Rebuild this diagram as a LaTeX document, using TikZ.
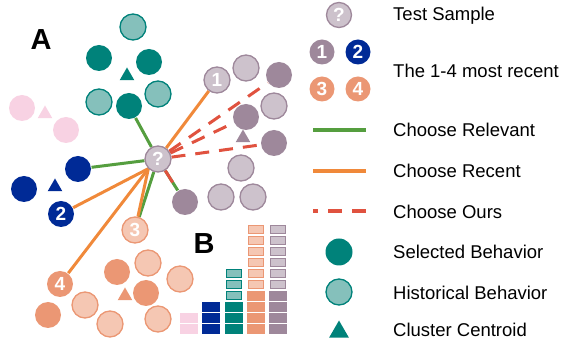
\documentclass[tikz,border=0pt]{standalone}
\usepackage{fontspec}
\setmainfont{Liberation Sans}
\usetikzlibrary{shapes.geometric}
\pgfdeclarelayer{bg}
\pgfsetlayers{bg,main}
\definecolor{tealD}{HTML}{00827A}
\definecolor{tealL}{HTML}{85C0BB}
\definecolor{pinkC}{HTML}{F8D2E3}
\definecolor{blueD}{HTML}{002A96}
\definecolor{orD}{HTML}{EB9774}
\definecolor{orL}{HTML}{F5C7B3}
\definecolor{puD}{HTML}{9E889B}
\definecolor{puL}{HTML}{CDC2CC}
\definecolor{lnG}{HTML}{559E3F}
\definecolor{lnO}{HTML}{F0893A}
\definecolor{lnR}{HTML}{E0523F}
\newcommand\mybar[5]{%
  \fill[#4] (#1,334) rectangle ({#1+18},{334-11*#2});%
  \foreach \i in {1,...,#2}{\draw[white,line width=0.6pt] (#1,{334-11*\i}) -- ({#1+18},{334-11*\i});}%
  \ifnum#3>0
    \foreach \j in {1,...,#3}{\filldraw[fill=#5,draw=#4,line width=1.2pt] ({#1+1.4},{334-11*#2-11*(\j-1)-1.3}) rectangle ({#1+16.6},{334-11*#2-11*\j+1.3});}%
  \fi}
\begin{document}
\begin{tikzpicture}[x=1pt,y=-1pt,
  dot/.style={circle,minimum size=26pt,inner sep=0pt,line width=1.3pt},
  tS/.style={dot,fill=tealD},
  tH/.style={dot,fill=tealL,draw=tealD},
  pk/.style={dot,fill=pinkC},
  bS/.style={dot,fill=blueD},
  oS/.style={dot,fill=orD},
  oH/.style={dot,fill=orL,draw=orD},
  pS/.style={dot,fill=puD},
  pH/.style={dot,fill=puL,draw=puD},
  tri/.style={regular polygon,regular polygon sides=3,minimum size=17pt,inner sep=0pt},
  num/.style={text=white,font=\bfseries\fontsize{19}{19}\selectfont},
  lab/.style={anchor=base west,font=\fontsize{18.5}{18.5}\selectfont,inner sep=0pt},
  big/.style={font=\bfseries\fontsize{29}{29}\selectfont,inner sep=0pt},
  relev/.style={lnG,line width=3pt},
  recent/.style={lnO,line width=3pt},
  ours/.style={lnR,line width=3pt,dash pattern=on 14pt off 10pt}]
\useasboundingbox (0,0) rectangle (582,347);
% labels
\node[big] (A) at (41,40) {A};
\node[big] (B) at (204,244) {B};
% teal cluster
\node[tH] (t1) at (133,27) {};
\node[tS] (t2) at (99,58) {};
\node[tS] (t3) at (149,62) {};
\node[tri,fill=tealD] (tT) at (127,76) {};
\node[tH] (t4) at (99,102) {};
\node[tS] (t5) at (129,106) {};
\node[tH] (t6) at (158,94) {};
% pink cluster
\node[pk] (k1) at (22,108) {};
\node[tri,fill=pinkC] (kT) at (45,114) {};
\node[pk] (k2) at (66,130) {};
% blue cluster
\node[bS] (b1) at (78,169) {};
\node[bS] (b3) at (24,189) {};
\node[tri,fill=blueD] (bT) at (55,187) {};
\node[bS,num] (b2) at (61,214) {2};
% test sample
\node[pH,num] (q) at (158,159) {?};
% purple cluster
\node[pH,num] (p1) at (217,80) {1};
\node[pH] (pl1) at (246,68) {};
\node[pS] (pd1) at (279,75) {};
\node[pH] (pl2) at (274,106) {};
\node[pS] (pd2) at (246,117) {};
\node[tri,fill=puD] (pT) at (243,138) {};
\node[pS] (pd3) at (274,143) {};
\node[pH] (pl3) at (241,168) {};
\node[pS] (pd4) at (185,202) {};
\node[pH] (pl4) at (221,197) {};
\node[pH] (pl5) at (253,197) {};
% orange cluster
\node[oH,num] (o3) at (135,230) {3};
\node[oS,num] (o4) at (60,284) {4};
\node[oS] (od1) at (117,272) {};
\node[oH] (ol1) at (148,263) {};
\node[oH] (ol2) at (180,279) {};
\node[oS] (od2) at (146,293) {};
\node[tri,fill=orD] (oT) at (125,296) {};
\node[oS] (od3) at (48,315) {};
\node[oH] (ol3) at (85,305) {};
\node[oH] (ol4) at (110,324) {};
\node[oH] (ol5) at (158,319) {};
% connectors
\begin{pgfonlayer}{bg}
\draw[relev] (q) -- (t5);
\draw[relev] (q) -- (b1);
\draw[relev] (q) -- (o3);
\draw[relev] (q) -- (pd4);
\draw[recent] (q) -- (p1);
\draw[recent] (q.225) -- (b2);
\draw[recent] (q.225) -- (o3);
\draw[recent] (q.225) -- (o4);
\draw[ours] (q) -- (pd1);
\draw[ours] (q) -- (pd2);
\draw[ours] (q) -- (pd3);
\draw[ours] (q) -- (pd4);
\end{pgfonlayer}
% bars
\mybar{180}{2}{0}{pinkC}{pinkC}
\mybar{202}{3}{0}{blueD}{blueD}
\mybar{225}{3}{3}{tealD}{tealL}
\mybar{247}{4}{6}{orD}{orL}
\mybar{269}{4}{6}{puD}{puL}
% legend
\node[pH,num,minimum size=25pt] (lq) at (339,15) {?};
\node[pS,num,minimum size=25pt] (l1) at (322,52) {1};
\node[bS,num,minimum size=25pt] (l2) at (358,52) {2};
\node[oS,num,minimum size=25pt] (l3) at (322,89) {3};
\node[oS,num,minimum size=25pt] (l4) at (358,89) {4};
\coordinate (gA) at (313,130); \coordinate (gB) at (366,130);
\coordinate (rA) at (313,171); \coordinate (rB) at (366,171);
\coordinate (dA) at (313,211); \coordinate (dB) at (366,211);
\draw[relev,line width=3.6pt] (gA) -- (gB);
\draw[recent,line width=3.6pt] (rA) -- (rB);
\draw[ours,line width=3.4pt,dash phase=9pt] (dA) -- (dB);
\node[tS,minimum size=27pt] (ls) at (339,252) {};
\node[tH,minimum size=26pt] (lh) at (339,292) {};
\node[tri,fill=tealD,minimum size=23pt] (lt) at (339,332) {};
\node[lab] (x1) at (393,21) {Test Sample};
\node[lab] (x2) at (393,78) {The 1-4 most recent};
\node[lab] (x3) at (393,137) {Choose Relevant};
\node[lab] (x4) at (393,178) {Choose Recent};
\node[lab] (x5) at (393,219) {Choose Ours};
\node[lab] (x6) at (393,259) {Selected Behavior};
\node[lab] (x7) at (393,300) {Historical Behavior};
\node[lab] (x8) at (393,337) {Cluster Centroid};
\end{tikzpicture}
\end{document}
